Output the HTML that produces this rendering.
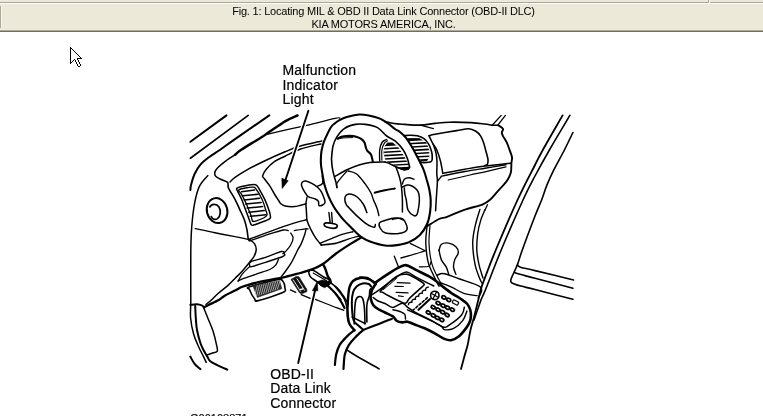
<!DOCTYPE html>
<html><head><meta charset="utf-8">
<style>
html,body{margin:0;padding:0;background:#fff;width:763px;height:416px;overflow:hidden;position:relative;font-family:"Liberation Sans",sans-serif;}
.hdr{position:absolute;left:0;top:0;width:763px;height:32px;background:#ece9d8;}
.l{position:absolute;left:0;width:763px;height:1px;}
.t1{position:absolute;filter:grayscale(1);left:0;width:763px;text-align:center;font-size:11px;line-height:13px;color:#000;white-space:nowrap;letter-spacing:-0.2px;}
.lab{position:absolute;filter:grayscale(1);-webkit-text-stroke:0.2px #000;font-size:14px;line-height:14.5px;color:#000;white-space:nowrap;}
svg{position:absolute;left:0;top:0;}
</style></head><body>
<div class="hdr">
  <div class="l" style="top:2px;background:#aca899"></div>
  <div class="l" style="top:3px;background:#fff"></div>
  <div style="position:absolute;left:708px;top:0;width:1px;height:3px;background:#aca899"></div>
  <div style="position:absolute;left:709px;top:0;width:1px;height:4px;background:#fff"></div>
  <div style="position:absolute;left:0;top:6px;width:1px;height:22px;background:#aca899"></div>
  <div style="position:absolute;left:1px;top:6px;width:1px;height:22px;background:#f5f3ea"></div>
  <div class="l" style="top:30px;background:#aca899"></div>
  <div class="l" style="top:31px;background:#716f64"></div>
  <div class="t1" style="top:4.7px;left:2px">Fig. 1: Locating MIL &amp; OBD II Data Link Connector (OBD-II DLC)</div>
  <div class="t1" style="top:17.7px;left:2px">KIA MOTORS AMERICA, INC.</div>
</div>
<div class="lab" style="left:282.5px;top:63.4px;letter-spacing:0.2px">Malfunction<br>Indicator<br>Light</div>
<div class="lab" style="left:270.3px;top:366.5px;letter-spacing:0.15px">OBD-II<br>Data Link<br>Connector</div>
<div class="lab" style="left:190px;top:411px;font-size:11px">G00108871</div>
<svg width="763" height="416" viewBox="0 0 763 416">
<g fill="none" stroke="#000" stroke-width="1.6" stroke-linecap="round" stroke-linejoin="round">
<path d="M384.9 146.4 L387.5 142.9 L392.7 142.9 L397.9 147.2 L404.0 156.8 L408.3 164.5 L409.1 168.9 L404.0 170.2 L397.9 168.0 L391.0 163.7 L385.8 160.2 L384.1 153.3Z" fill="#000" stroke="#000" stroke-width="0.8" stroke-linejoin="round"/>
<path d="M384.5 147.1L409.0 145.7" stroke="#fff" stroke-width="1.80" stroke-linecap="round" fill="none"/>
<path d="M384.5 150.5L409.0 149.1" stroke="#fff" stroke-width="1.80" stroke-linecap="round" fill="none"/>
<path d="M384.5 153.9L409.0 152.5" stroke="#fff" stroke-width="1.80" stroke-linecap="round" fill="none"/>
<path d="M384.5 157.3L409.0 155.9" stroke="#fff" stroke-width="1.80" stroke-linecap="round" fill="none"/>
<path d="M384.5 160.7L409.0 159.3" stroke="#fff" stroke-width="1.80" stroke-linecap="round" fill="none"/>
<path d="M384.5 164.1L409.0 162.7" stroke="#fff" stroke-width="1.80" stroke-linecap="round" fill="none"/>
<path d="M384.5 167.2L409.0 165.8" stroke="#fff" stroke-width="1.80" stroke-linecap="round" fill="none"/>
<path d="M408.0 138.6 L419.2 138.6 L426.0 142.4 L428.8 150.1 L428.8 157.8 L426.9 160.7 L421.0 161.0 L417.0 156.0 L413.0 149.0 L409.0 142.0Z" fill="#000" stroke="#000" stroke-width="0.8" stroke-linejoin="round"/>
<path d="M408.0 142.1L429.0 140.9" stroke="#fff" stroke-width="1.80" stroke-linecap="round" fill="none"/>
<path d="M408.0 145.5L429.0 144.3" stroke="#fff" stroke-width="1.80" stroke-linecap="round" fill="none"/>
<path d="M408.0 148.9L429.0 147.7" stroke="#fff" stroke-width="1.80" stroke-linecap="round" fill="none"/>
<path d="M408.0 152.3L429.0 151.1" stroke="#fff" stroke-width="1.80" stroke-linecap="round" fill="none"/>
<path d="M408.0 155.7L429.0 154.5" stroke="#fff" stroke-width="1.80" stroke-linecap="round" fill="none"/>
<path d="M408.0 159.0L429.0 157.8" stroke="#fff" stroke-width="1.80" stroke-linecap="round" fill="none"/>
<path d="M190.4 141.8L226.5 115.4" stroke-width="2.0"/>
<path d="M190.4 158.2L248.2 115.4" stroke-width="1.7"/>
<path d="M269.3 115.4C263.6 119.4 243.1 133.4 235.0 139.1C226.9 144.8 224.8 146.5 220.5 149.5C216.2 152.5 212.3 154.7 209.0 157.2C205.7 159.7 203.0 161.6 200.6 164.4C198.2 167.2 196.2 170.6 194.6 174.0C193.0 177.4 191.7 182.2 191.0 184.9C190.3 187.6 190.5 189.2 190.4 190.0" stroke-width="2.0"/>
<path d="M207.8 175.6C206.4 177.4 201.6 181.8 199.4 186.4C197.2 191.0 195.9 196.5 194.6 203.3C193.3 210.1 192.3 219.5 191.7 227.3C191.1 235.1 191.0 237.9 190.8 250.0C190.7 262.1 190.8 288.7 190.8 300.0C190.8 311.3 190.1 312.3 190.6 318.0C191.1 323.7 192.3 329.2 193.6 334.0C194.9 338.8 196.9 342.8 198.5 346.5C200.1 350.2 202.0 353.6 203.3 356.2C204.6 358.8 205.7 361.4 206.2 362.4" stroke-width="1.5"/>
<path d="M297.6 115.4C295.5 116.4 290.4 118.2 285.0 121.4C279.6 124.7 272.2 130.2 265.0 134.9C257.8 139.6 246.6 146.2 241.6 149.5C236.6 152.8 236.1 153.9 235.0 154.8" stroke-width="2.4"/>
<path d="M235.0 154.8C233.5 155.8 228.6 158.8 225.9 160.8C223.2 162.8 220.5 165.0 218.7 166.8C216.9 168.6 215.6 170.2 215.0 171.6C214.4 173.0 214.6 174.2 215.0 175.2C215.4 176.2 216.3 176.8 217.5 177.6C218.7 178.4 220.6 179.2 222.3 180.0C224.0 180.8 226.7 181.2 227.7 182.5C228.7 183.8 227.3 185.2 228.5 188.0C229.7 190.8 233.1 195.7 235.0 199.3C236.9 202.9 238.2 206.1 239.8 209.6C241.4 213.1 243.4 217.0 244.6 220.4C245.8 223.8 246.4 227.0 247.0 230.0C247.6 233.0 247.8 236.7 248.2 238.5C248.6 240.3 249.2 240.5 249.4 240.9" stroke-width="1.6"/>
<path d="M265.0 134.9C268.3 134.1 279.2 131.5 285.0 130.2C290.8 128.8 296.4 127.6 300.0 126.8C303.6 126.0 300.8 126.8 306.6 125.4C312.4 124.0 329.5 119.6 335.0 118.4C340.5 117.2 339.0 118.1 339.8 118.0" stroke-width="1.3"/>
<path d="M230.1 181.9C230.9 181.2 232.2 179.4 235.0 177.4C237.8 175.4 242.0 172.6 247.0 169.8C252.0 167.0 258.7 163.8 265.0 160.8C271.3 157.8 279.3 154.2 285.0 151.8C290.7 149.4 293.3 148.1 299.4 146.3C305.5 144.5 318.0 141.8 321.7 140.9" stroke-width="1.5"/>
<path d="M321.0 143.9C317.5 144.8 306.0 147.2 300.0 149.3C294.0 151.4 289.2 154.2 285.0 156.2C280.8 158.2 277.8 159.2 274.7 161.4C271.6 163.6 268.3 166.8 266.3 169.2C264.3 171.6 262.9 174.2 262.6 175.8C262.3 177.4 263.2 177.1 264.4 178.8C265.6 180.5 268.2 183.5 269.9 186.1C271.6 188.7 273.3 192.2 274.7 194.5C276.1 196.8 277.3 198.5 278.3 200.0C279.3 201.5 279.6 202.6 280.7 203.6C281.8 204.6 282.7 205.5 285.0 206.0C287.3 206.5 291.1 207.0 294.6 206.6C298.1 206.2 303.9 204.3 305.8 203.8" stroke-width="1.5"/>
<path d="M341.0 216.8C338.6 213.8 335.6 209.9 333.5 206.3C331.4 202.7 329.6 199.0 328.1 195.4C326.6 191.8 325.3 188.0 324.4 184.6C323.5 181.2 323.2 178.3 322.6 175.0C322.0 171.7 321.3 167.8 321.0 165.0C320.7 162.2 320.8 160.3 320.9 158.0C321.0 155.7 321.1 153.3 321.5 151.0C321.9 148.7 322.6 146.0 323.2 144.0C323.8 142.0 323.8 141.7 325.1 138.9C326.4 136.1 329.2 129.9 330.9 127.3C332.5 124.7 333.6 124.4 335.0 123.2C336.4 122.0 337.4 121.2 339.5 120.1C341.6 119.0 344.4 117.6 347.7 116.7C351.0 115.8 355.7 114.7 359.2 114.5C362.7 114.3 365.3 114.8 368.8 115.5C372.3 116.2 376.8 117.3 380.0 118.6C383.2 119.9 385.5 121.8 388.0 123.5C390.5 125.2 393.0 127.6 395.0 129.0C397.0 130.4 398.2 130.6 400.0 132.0C401.8 133.4 403.9 135.2 405.8 137.6C407.7 140.0 409.8 143.4 411.5 146.3C413.2 149.2 414.9 152.2 416.3 154.9C417.8 157.6 419.0 160.1 420.2 162.6C421.4 165.1 422.6 167.1 423.7 170.0C424.8 172.9 425.9 176.7 426.8 180.0C427.8 183.3 428.8 186.7 429.4 190.0C430.0 193.3 430.6 196.3 430.7 200.0C430.8 203.7 430.7 208.0 430.1 212.0C429.5 216.0 428.8 220.2 427.1 224.0C425.4 227.8 422.9 231.9 419.9 234.9C416.9 237.9 412.8 240.4 409.0 242.1C405.2 243.8 401.0 244.5 397.0 245.1C393.0 245.7 389.5 246.1 385.0 245.5C380.5 244.9 373.7 242.8 370.0 241.5C366.3 240.2 364.8 239.3 362.6 237.9C360.4 236.5 359.0 235.2 356.6 233.0C354.2 230.8 350.7 227.3 348.1 224.6C345.5 221.9 343.4 219.9 341.0 216.8Z" stroke-width="2.1"/>
<path d="M337.0 187.6C336.8 186.6 336.3 183.6 335.8 181.6C335.3 179.6 334.6 178.0 334.0 175.6C333.4 173.2 332.6 169.8 332.2 167.2C331.8 164.6 331.7 161.6 331.6 160.0C331.5 158.4 331.4 159.9 331.6 157.6C331.8 155.3 332.2 149.5 333.0 146.1C333.8 142.7 334.8 140.3 336.6 137.4C338.4 134.5 340.8 131.0 343.9 128.8C347.0 126.6 351.8 125.1 355.4 124.4C359.0 123.7 362.2 124.0 365.5 124.4C368.8 124.8 372.6 125.8 375.0 126.6C377.4 127.4 378.1 127.9 380.0 129.5C381.9 131.1 384.1 134.1 386.7 136.0C389.2 137.9 392.6 138.9 395.3 141.2C398.0 143.5 401.1 146.9 403.1 149.8C405.1 152.7 406.3 155.6 407.4 158.5C408.5 161.4 409.2 165.7 409.6 167.1" stroke-width="1.6"/>
<path d="M396.0 167.0C396.3 167.8 397.0 169.8 397.6 171.5C398.2 173.2 398.9 175.2 399.5 177.3C400.1 179.4 400.6 181.6 401.0 184.0C401.4 186.4 401.7 189.0 401.9 191.7C402.1 194.4 402.3 196.6 402.4 200.0C402.5 203.4 402.4 210.0 402.4 212.0" stroke-width="1.5"/>
<path d="M337.5 138.6C338.3 138.3 340.4 137.0 342.4 136.6C344.4 136.2 347.4 135.9 349.6 135.9C351.8 135.9 353.5 135.9 355.4 136.4C357.3 136.9 359.7 137.8 361.2 138.8C362.7 139.8 363.7 141.1 364.5 142.6C365.3 144.1 365.5 146.6 366.0 148.0C366.5 149.4 366.6 149.9 367.5 151.0C368.4 152.1 370.2 153.0 371.1 154.8C372.0 156.6 372.6 160.8 372.9 162.0" stroke-width="2.1"/>
<path d="M338.0 139.2C338.8 139.0 340.6 138.3 343.0 138.0C345.4 137.7 350.9 137.7 352.5 137.6" stroke-width="1.0"/>
<path d="M335.0 176.4C337.0 175.3 343.0 171.7 347.0 169.8C351.0 167.9 355.2 166.2 359.0 165.0C362.8 163.8 365.6 163.1 369.9 162.6C374.2 162.1 382.5 162.1 385.0 162.0" stroke-width="1.5"/>
<path d="M347.0 171.0C345.4 172.9 339.1 179.8 337.4 182.5C335.7 185.2 336.9 186.5 336.8 187.3" stroke-width="1.3"/>
<path d="M348.2 171.0C349.6 171.5 353.8 171.9 356.6 174.0C359.4 176.1 362.6 180.5 365.0 183.7C367.4 186.9 369.7 190.6 371.1 193.3C372.5 196.0 372.5 197.5 373.5 200.0C374.5 202.5 376.2 205.8 377.1 208.4C378.0 211.0 378.6 214.4 378.9 215.6" stroke-width="1.4"/>
<path d="M374.7 192.7C376.4 192.3 381.6 191.0 385.0 190.3C388.4 189.6 393.2 188.8 394.8 188.5" stroke-width="2.0"/>
<path d="M366.9 212.6C366.3 211.2 365.1 207.1 363.5 204.5C361.9 201.9 359.5 199.0 357.5 197.3C355.5 195.6 353.2 194.7 351.4 194.3C349.6 193.9 347.7 194.2 346.6 194.9C345.5 195.6 344.9 196.9 344.8 198.5C344.7 200.1 345.4 202.9 346.2 204.5C347.0 206.1 347.7 206.3 349.4 208.2C351.1 210.0 354.0 213.2 356.6 215.6C359.2 218.0 362.6 221.0 365.0 222.8C367.4 224.6 369.5 225.7 371.1 226.4C372.7 227.1 374.0 227.3 374.7 227.0C375.4 226.7 375.2 225.0 375.3 224.6" stroke-width="1.5"/>
<path d="M379.5 222.8C380.3 221.6 382.5 221.3 385.0 220.5C387.5 219.7 391.6 218.2 394.6 218.0C397.6 217.8 400.9 217.6 403.0 219.2C405.1 220.8 406.9 225.5 407.2 227.6C407.5 229.7 406.5 230.9 404.8 231.9C403.1 232.9 400.3 233.5 397.0 233.7C393.7 233.8 387.8 233.8 385.0 232.8C382.2 231.9 381.0 229.7 380.1 228.0C379.2 226.3 378.7 224.1 379.5 222.8Z" stroke-width="1.5"/>
<path d="M392.2 219.6C393.2 219.4 396.4 218.3 398.2 218.4C400.0 218.5 402.2 219.7 403.0 220.0" stroke-width="1.2"/>
<path d="M402.4 184.0C402.7 183.2 403.2 180.2 404.3 179.2C405.4 178.2 407.6 177.8 409.2 177.8C410.8 177.8 413.2 179.0 414.0 179.2" stroke-width="1.4"/>
<path d="M402.4 187.0C403.2 186.7 405.6 185.2 407.2 185.0C408.8 184.8 410.4 185.2 412.0 186.0C413.6 186.8 415.7 188.5 416.8 189.8C417.9 191.1 418.4 192.0 418.8 193.7C419.2 195.4 419.4 197.8 419.4 200.0C419.4 202.2 419.1 204.6 418.7 207.0C418.3 209.4 417.8 213.0 417.0 214.4C416.2 215.8 415.3 216.3 413.8 215.6C412.3 214.9 409.2 212.6 408.0 210.0C406.8 207.4 406.8 202.7 406.3 200.0C405.8 197.3 405.1 195.7 404.8 193.7C404.5 191.7 404.4 188.9 404.3 187.9" stroke-width="1.5"/>
<path d="M379.7 161.1C379.7 159.2 379.3 153.0 379.7 149.8C380.1 146.6 381.1 143.7 382.3 142.0C383.5 140.3 386.0 139.9 386.7 139.5" stroke-width="1.4"/>
<path d="M381.9 160.2C381.9 158.5 381.5 152.7 381.9 149.8C382.3 146.9 383.6 144.4 384.5 142.9C385.4 141.4 387.0 141.2 387.5 140.8" stroke-width="1.1"/>
<path d="M385.0 162.0C385.5 162.2 386.2 162.1 388.0 162.9C389.8 163.7 393.1 165.6 395.7 166.7C398.3 167.8 401.3 169.2 403.4 169.6C405.5 170.0 407.2 169.6 408.2 169.1C409.2 168.6 409.4 167.1 409.6 166.7" stroke-width="1.5"/>
<path d="M403.8 135.7C404.8 135.6 407.4 135.2 409.6 135.2C411.9 135.2 414.9 135.1 417.3 135.7C419.7 136.3 422.1 137.2 424.0 138.6C425.9 140.0 427.5 142.1 428.8 144.3C430.1 146.5 431.1 149.6 431.7 152.0C432.3 154.4 432.3 157.2 432.2 158.8C432.1 160.4 432.2 161.1 430.8 161.7C429.4 162.3 425.7 162.5 424.0 162.6C422.3 162.7 421.1 162.1 420.5 162.0" stroke-width="1.6"/>
<path d="M385.0 121.6C386.5 121.9 390.7 123.0 394.0 123.5C397.3 124.0 400.2 124.1 404.6 124.4C409.0 124.7 415.3 125.3 420.4 125.1C425.5 124.9 430.2 123.9 435.0 123.4C439.8 122.9 443.4 122.3 449.4 122.2C455.4 122.1 465.1 122.3 471.0 122.6C476.9 122.9 481.5 123.6 485.0 124.0C488.5 124.4 490.0 125.0 492.2 125.2C494.4 125.4 497.2 125.2 498.2 125.2" stroke-width="1.6"/>
<path d="M420.4 125.1L433.4 128.7" stroke-width="1.3"/>
<path d="M429.0 135.7C430.0 135.5 430.4 135.2 435.0 134.3C439.6 133.5 451.0 131.5 456.6 130.6C462.2 129.7 465.5 128.7 468.7 128.8C471.9 128.9 473.9 130.1 475.9 131.3C477.9 132.5 479.3 134.0 480.7 136.1C482.1 138.2 483.2 141.7 484.0 144.0C484.8 146.3 484.9 147.4 485.6 150.0C486.3 152.6 487.7 157.2 488.0 159.6C488.3 162.0 487.9 163.4 487.4 164.4C486.9 165.4 485.4 165.2 485.0 165.4" stroke-width="1.6"/>
<path d="M429.0 135.7C429.6 137.0 431.4 141.0 432.7 143.4C434.0 145.8 435.5 147.1 436.8 150.0C438.1 152.9 439.4 156.9 440.4 160.8C441.4 164.7 442.4 171.3 442.8 173.4" stroke-width="1.5"/>
<path d="M433.2 144.3C433.7 145.8 435.4 150.1 436.0 153.0C436.6 155.9 436.9 158.2 437.0 161.7C437.1 165.2 436.7 170.7 436.8 174.0C436.9 177.3 437.5 177.0 437.4 181.3C437.3 185.6 436.5 195.1 436.2 200.0C435.9 204.9 435.7 209.0 435.6 210.8" stroke-width="1.5"/>
<path d="M437.4 181.3C438.0 180.6 440.0 177.9 441.0 177.0C442.0 176.1 439.4 176.7 443.4 175.8C447.4 174.9 458.1 172.8 465.0 171.5C471.9 170.2 478.2 169.3 485.0 168.2C491.8 167.1 502.5 165.4 506.0 164.8" stroke-width="1.4"/>
<path d="M442.8 173.4C446.5 172.7 458.0 170.4 465.0 169.2C472.0 168.0 477.4 167.0 485.0 166.0C492.6 165.0 506.5 163.7 510.8 163.2" stroke-width="1.4"/>
<path d="M448.2 180.0C451.8 179.2 463.9 176.4 470.0 175.0C476.1 173.6 479.0 173.2 485.0 171.8C491.0 170.4 502.5 167.6 506.0 166.8" stroke-width="1.2"/>
<path d="M498.2 125.2C499.0 125.8 502.4 127.6 503.0 128.8C503.6 130.0 501.8 131.3 501.8 132.5C501.8 133.7 502.2 134.5 503.0 136.1C503.8 137.7 505.5 139.8 506.6 142.1C507.7 144.4 508.7 147.5 509.6 150.0C510.5 152.5 511.7 155.0 512.0 157.2C512.3 159.4 511.6 160.6 511.4 163.2C511.2 165.8 511.6 169.8 510.8 172.8C510.0 175.8 508.9 178.1 506.6 181.3C504.3 184.5 499.8 189.0 497.0 192.1C494.2 195.2 492.2 197.9 489.8 200.0C487.4 202.1 486.4 203.0 482.3 204.6C478.2 206.2 470.9 207.6 465.0 209.6C459.1 211.6 451.3 215.2 447.0 216.8C442.7 218.4 442.3 217.4 439.0 219.0C435.7 220.6 429.0 225.1 427.0 226.3" stroke-width="1.9"/>
<path d="M485.0 210.2L487.4 204.8" stroke-width="1.3"/>
<path d="M492.2 125.2L501.2 115.4" stroke-width="1.3"/>
<path d="M498.2 124.6L505.4 115.4" stroke-width="1.3"/>
<path d="M562.6 115.4C559.3 121.2 547.4 141.7 542.8 150.0C538.2 158.3 539.2 156.7 535.0 165.0C530.8 173.3 524.0 185.8 517.5 200.0C511.0 214.2 501.2 237.1 495.8 250.0C490.4 262.9 487.5 271.0 485.0 277.6C482.5 284.2 481.8 286.0 480.7 289.7C479.6 293.4 479.4 295.5 478.3 300.0C477.2 304.5 475.5 311.6 474.2 316.6C472.9 321.6 471.6 325.3 470.5 330.0C469.4 334.7 468.7 340.4 467.7 344.7C466.7 349.0 465.6 351.9 464.5 356.0C463.4 360.1 461.6 366.8 461.0 369.0" stroke-width="1.8"/>
<path d="M569.9 115.4C566.5 121.2 555.2 139.9 549.4 150.0C543.6 160.1 539.4 167.7 535.0 176.0C530.6 184.3 528.6 187.7 523.0 200.0C517.4 212.3 507.5 234.8 501.2 250.0C494.9 265.1 488.4 282.6 485.0 290.9C481.6 299.2 482.8 295.1 481.0 300.0C479.2 304.9 475.2 316.7 474.0 320.0" stroke-width="1.6"/>
<path d="M572.9 132.5C571.5 135.4 567.5 143.9 564.4 150.0C561.3 156.1 557.1 163.4 554.2 169.2C551.3 175.0 549.1 179.8 547.0 184.9C544.9 190.0 543.6 194.8 541.6 200.0C539.6 205.2 538.2 207.7 535.0 216.0C531.8 224.3 525.2 241.9 522.3 250.0C519.4 258.1 518.9 260.6 517.5 264.4C516.1 268.2 514.9 270.2 513.8 272.8C512.7 275.4 511.1 278.3 510.8 280.0C510.5 281.7 510.3 282.0 512.0 283.0C513.7 284.0 517.2 285.0 521.0 286.1C524.8 287.2 526.4 287.3 535.0 289.5C543.6 291.7 566.6 297.7 572.9 299.3" stroke-width="1.6"/>
<path d="M517.5 265.0C518.1 265.4 518.1 266.5 521.0 267.4C523.9 268.3 526.2 268.5 535.0 270.6C543.8 272.7 567.1 278.4 573.5 280.0" stroke-width="1.6"/>
<path d="M514.5 272.5C515.6 272.9 517.6 273.7 521.0 274.6C524.4 275.6 526.4 275.9 535.0 278.2C543.6 280.5 566.6 286.5 572.9 288.2" stroke-width="1.6"/>
<path d="M427.0 226.3C426.8 229.1 425.6 237.0 425.8 243.0C426.0 249.0 426.8 256.7 428.2 262.3C429.6 267.9 432.4 272.7 434.2 276.7C436.0 280.7 438.2 284.7 439.0 286.3" stroke-width="1.4"/>
<path d="M410.2 243.3L424.7 250.5" stroke-width="1.3"/>
<path d="M430.0 226.0C429.8 228.8 428.8 236.9 429.0 243.0C429.2 249.1 430.2 256.8 431.5 262.3C432.8 267.8 435.2 272.2 437.0 276.0C438.8 279.8 441.2 283.5 442.0 285.0" stroke-width="1.2"/>
<path d="M479.9 209.4C479.1 212.2 476.3 220.7 475.1 226.3C473.9 231.9 472.7 236.7 472.7 243.1C472.7 249.5 473.9 258.7 475.1 264.7C476.3 270.7 478.8 276.1 479.9 279.1C481.0 282.2 481.6 282.4 482.0 283.0" stroke-width="1.4"/>
<path d="M485.0 209.6C484.3 211.4 481.9 216.4 480.7 220.4C479.5 224.4 478.3 228.8 477.7 233.7C477.1 238.6 476.6 244.8 476.8 250.0C477.0 255.2 478.0 260.0 479.0 264.7C480.0 269.4 482.3 275.8 483.0 278.0" stroke-width="1.4"/>
<path d="M439.0 250.3C439.4 249.3 439.8 245.5 441.4 244.3C443.0 243.1 446.3 242.7 448.7 243.1C451.1 243.5 454.3 245.1 455.9 246.7C457.5 248.3 458.5 250.5 458.3 252.7C458.1 254.9 455.5 257.5 454.7 259.9C453.9 262.3 453.3 264.7 453.5 267.1C453.7 269.5 455.5 273.1 455.9 274.3" stroke-width="1.4"/>
<path d="M439.0 250.3C439.4 251.9 440.2 257.1 441.4 259.9C442.6 262.7 445.1 264.7 446.3 267.1C447.5 269.5 448.3 273.1 448.7 274.3" stroke-width="1.4"/>
<path d="M236.8 188.4C237.5 187.7 238.8 187.2 241.6 186.6C244.4 186.0 251.0 184.7 253.6 184.6C256.2 184.5 256.0 184.8 257.2 186.0C258.4 187.2 259.4 189.4 260.8 192.0C262.2 194.6 264.3 198.4 265.7 201.6C267.1 204.8 268.5 208.7 269.3 211.3C270.1 213.9 270.7 215.9 270.5 217.3C270.3 218.7 269.3 219.0 268.1 219.7C266.9 220.4 265.7 220.6 263.3 221.5C260.9 222.4 255.6 224.6 253.6 225.1C251.6 225.6 252.0 225.6 251.2 224.5C250.4 223.4 249.8 221.1 248.8 218.5C247.8 215.9 246.4 212.0 245.2 208.8C244.0 205.6 242.9 202.2 241.6 199.2C240.3 196.2 238.2 192.6 237.4 190.8C236.6 189.0 236.1 189.1 236.8 188.4Z" stroke-width="1.5"/>
<path d="M239.2 189.6C241.0 188.4 249.6 187.3 252.4 187.2C255.2 187.1 254.4 187.0 256.0 189.0C257.6 191.0 260.4 195.7 262.0 199.2C263.6 202.7 265.0 207.2 265.7 210.0C266.4 212.8 268.3 214.2 266.3 216.1C264.3 218.0 256.1 221.5 253.6 221.5C251.1 221.5 252.4 219.0 251.2 216.1C250.0 213.2 248.0 207.6 246.4 204.0C244.8 200.4 242.8 196.8 241.6 194.4C240.4 192.0 237.4 190.8 239.2 189.6Z" stroke-width="1.3"/>
<path d="M195.2 228.6C198.5 229.3 208.4 231.5 215.0 232.8C221.6 234.1 229.7 235.6 235.0 236.6C240.3 237.6 244.5 238.6 247.0 239.1C249.5 239.6 249.3 239.4 249.8 239.5" stroke-width="1.4"/>
<path d="M249.8 239.0C253.0 237.8 261.8 234.4 269.0 231.8C276.2 229.2 286.9 225.4 293.1 223.4C299.3 221.4 304.1 220.4 306.3 219.8" stroke-width="1.4"/>
<path d="M250.4 240.8C253.5 239.7 263.5 236.0 269.0 234.2C274.5 232.4 280.3 230.6 283.5 230.0C286.7 229.4 287.5 230.5 288.3 230.6" stroke-width="1.3"/>
<path d="M294.3 230.6C296.1 230.3 302.8 229.1 305.1 228.8C307.4 228.5 307.5 229.0 308.0 229.0" stroke-width="1.3"/>
<path d="M305.8 203.8C305.9 205.0 306.3 209.2 306.4 211.1C306.5 213.0 306.5 213.3 306.6 215.0C306.7 216.7 306.5 218.6 307.2 221.0C307.9 223.4 309.4 226.6 310.8 229.4C312.2 232.2 314.1 235.6 315.6 237.9C317.1 240.2 318.9 242.1 319.9 243.3C320.9 244.5 321.4 244.8 321.7 245.1" stroke-width="1.5"/>
<path d="M319.9 243.3C321.6 242.6 326.4 240.6 330.1 239.1C333.8 237.6 338.3 235.5 342.1 234.3C345.9 233.1 351.1 232.2 352.9 231.8" stroke-width="1.4"/>
<path d="M321.0 245.1C323.5 244.8 331.6 244.3 336.1 243.3C340.6 242.3 344.3 240.3 348.1 239.1C351.9 237.9 357.2 236.6 359.0 236.1" stroke-width="1.4"/>
<path d="M306.0 229.4C305.8 230.2 305.6 231.9 304.8 234.3C304.0 236.7 302.3 241.4 301.2 243.9C300.1 246.4 299.6 246.3 298.0 249.4C296.4 252.5 293.6 258.8 291.5 262.4C289.4 266.0 287.4 268.6 285.7 271.0C284.0 273.4 282.1 275.6 281.4 276.5" stroke-width="1.4"/>
<path d="M290.7 233.0C291.1 233.8 293.1 235.8 293.1 237.8C293.1 239.8 291.9 242.8 290.7 245.0C289.5 247.2 287.2 249.7 285.9 251.1C284.6 252.5 283.3 253.3 282.8 253.7" stroke-width="1.3"/>
<path d="M302.2 182.2C302.9 181.4 304.2 180.8 305.8 181.0C307.4 181.2 309.9 182.4 311.8 183.4C313.7 184.4 315.6 185.6 317.2 187.0C318.8 188.4 320.2 189.8 321.4 191.8C322.6 193.8 323.8 197.2 324.4 199.0C325.0 200.8 325.3 201.6 325.0 202.6C324.7 203.6 323.6 204.5 322.6 205.0C321.6 205.5 319.7 206.2 319.0 205.6C318.3 205.0 319.0 202.5 318.4 201.4C317.8 200.3 317.1 199.8 315.4 199.0C313.7 198.2 310.0 197.8 308.2 196.6C306.4 195.4 305.7 193.6 304.6 191.8C303.5 190.0 302.0 187.4 301.6 185.8C301.2 184.2 301.5 183.0 302.2 182.2Z" stroke-width="1.5"/>
<path d="M317.2 186.4C318.1 185.9 321.8 185.1 322.6 183.4C323.4 181.7 322.3 177.2 322.2 176.0" stroke-width="1.4"/>
<path d="M307.0 197.2L305.8 203.8" stroke-width="1.4"/>
<path d="M328.9 212.5L330.1 222.2" stroke-width="1.4"/>
<path d="M331.6 212.5L332.3 222.2" stroke-width="1.4"/>
<path d="M324.1 224.6C324.1 223.9 324.7 222.9 326.5 222.8C328.3 222.7 333.1 223.5 334.9 224.0C336.7 224.5 337.3 225.1 337.3 225.8C337.3 226.5 336.7 228.0 334.9 228.2C333.1 228.4 328.3 227.6 326.5 227.0C324.7 226.4 324.1 225.3 324.1 224.6Z" stroke-width="1.7"/>
<path d="M249.8 239.5C250.6 240.2 253.5 242.1 254.6 243.8C255.7 245.5 256.3 247.8 256.2 249.9C256.1 252.0 255.1 254.4 254.0 256.5C252.9 258.6 251.5 259.9 249.6 262.3C247.7 264.7 244.8 268.4 242.4 271.0C240.0 273.6 237.6 275.8 235.2 278.2C232.8 280.6 230.9 282.8 228.0 285.4C225.1 287.9 220.8 291.1 218.0 293.5C215.2 295.9 213.4 298.2 211.4 300.0C209.4 301.8 206.9 303.8 206.0 304.5" stroke-width="1.5"/>
<path d="M251.1 261.6C253.8 260.3 260.4 259.0 265.5 257.3C270.6 255.6 278.3 252.1 281.4 251.5C284.5 250.9 284.1 252.9 284.3 253.7C284.5 254.5 285.9 255.1 282.8 256.5C279.7 257.9 270.7 260.6 265.5 262.3C260.3 264.0 254.5 266.1 251.8 266.6C249.2 267.1 249.7 266.0 249.6 265.2C249.5 264.4 248.4 262.9 251.1 261.6Z" stroke-width="1.4"/>
<path d="M249.6 266.6C248.4 267.8 244.3 271.5 242.4 273.9C240.5 276.3 238.8 279.9 238.1 281.1" stroke-width="1.3"/>
<path d="M278.5 259.4C278.0 260.4 277.1 263.5 275.6 265.2C274.2 266.9 272.9 268.1 269.8 269.5C266.7 270.9 261.5 272.3 256.9 273.9C252.3 275.5 245.5 277.7 242.4 278.9C239.3 280.1 238.8 280.7 238.1 281.1" stroke-width="1.3"/>
<path d="M204.2 307.2C205.0 306.8 206.6 306.0 209.0 304.8C211.4 303.6 216.1 301.5 218.7 300.0C221.3 298.5 222.0 297.3 224.7 295.7C227.4 294.1 232.1 292.1 235.0 290.6C237.9 289.1 238.8 288.2 242.4 286.8C246.1 285.4 252.1 283.7 256.9 282.5C261.7 281.3 266.5 280.6 271.3 279.6C276.1 278.7 280.9 277.9 285.7 276.8C290.5 275.7 295.6 274.2 300.0 273.0C304.4 271.8 308.2 270.9 312.0 269.4C315.8 267.9 318.9 266.6 322.9 264.0C326.9 261.4 331.5 256.9 336.1 253.5C340.7 250.2 346.3 246.6 350.5 243.9C354.7 241.2 359.6 238.4 361.4 237.3" stroke-width="2.3"/>
<path d="M190.4 304.8C191.5 304.7 195.1 304.1 197.0 304.2C198.9 304.3 200.6 304.9 201.8 305.4C203.0 305.9 203.8 306.9 204.2 307.2" stroke-width="2.0"/>
<path d="M195.2 306.0C195.3 308.0 195.5 314.0 195.8 318.0C196.1 322.0 196.2 325.8 197.0 330.0C197.8 334.2 199.2 339.4 200.4 343.0C201.6 346.6 203.0 348.9 204.2 351.3C205.4 353.7 206.6 355.5 207.6 357.1C208.6 358.7 208.5 359.7 210.0 361.0C211.5 362.3 213.8 363.4 216.7 364.8C219.6 366.2 225.5 368.8 227.3 369.6" stroke-width="2.0"/>
<path d="M203.3 307.0C204.1 308.8 206.2 314.0 207.8 318.0C209.4 322.0 211.5 326.4 213.0 331.0C214.5 335.6 216.0 342.2 216.7 345.6C217.4 349.0 218.0 350.0 217.2 351.3C216.4 352.6 213.7 352.7 211.9 353.3C210.1 353.9 207.5 354.9 206.6 355.2" stroke-width="1.5"/>
<path d="M190.3 356.6C191.0 357.8 192.9 361.7 194.6 363.8C196.3 365.9 199.4 368.2 200.4 369.1" stroke-width="2.0"/>
<path d="M249.6 286.8C254.2 285.1 271.6 280.6 277.1 279.6C282.6 278.7 281.5 279.7 282.8 281.1C284.1 282.6 285.0 286.4 285.0 288.3C285.0 290.2 287.2 290.6 282.8 292.6C278.4 294.7 263.0 299.5 258.3 300.6C253.6 301.7 256.1 300.9 254.7 299.1C253.2 297.3 250.4 291.8 249.6 289.7C248.8 287.6 245.0 288.5 249.6 286.8Z" stroke-width="1.6"/>
<path d="M309.0 271.2C309.5 270.6 310.7 269.8 312.0 270.0C313.3 270.2 314.8 271.2 316.8 272.4C318.8 273.6 322.1 276.0 324.1 277.2C326.1 278.4 327.8 278.8 328.9 279.6C330.0 280.4 330.9 281.1 330.7 282.0C330.5 282.9 329.0 284.3 327.7 285.0C326.4 285.7 324.6 286.7 322.9 286.2C321.2 285.7 319.4 283.5 317.4 282.0C315.4 280.5 312.2 278.6 310.8 277.2C309.4 275.8 309.3 274.6 309.0 273.6C308.7 272.6 308.5 271.8 309.0 271.2Z" stroke-width="1.6"/>
<path d="M313.2 273.0L326.5 280.8" stroke-width="1.1"/>
<path d="M322.9 264.0C323.3 264.8 324.5 266.8 325.3 268.8C326.1 270.8 326.9 274.2 327.7 276.0C328.5 277.8 329.7 279.0 330.1 279.6" stroke-width="2.4"/>
<path d="M327.7 285.6C328.9 286.8 332.7 290.3 334.9 292.9C337.1 295.5 339.3 298.8 340.9 301.3C342.5 303.8 343.9 306.9 344.5 308.0" stroke-width="2.2"/>
<path d="M331.3 283.2C332.5 284.2 336.3 286.8 338.5 289.2C340.7 291.6 342.9 295.3 344.5 297.7C346.1 300.1 347.4 302.7 348.0 303.7" stroke-width="1.6"/>
<path d="M290.4 289.9L295.8 292.3" stroke-width="1.3"/>
<path d="M301.2 294.7L310.2 298.3" stroke-width="1.3"/>
<path d="M315.4 299.3C317.1 300.0 322.2 302.1 325.7 303.5C329.2 304.9 333.5 306.6 336.5 307.7C339.5 308.8 342.5 309.9 343.7 310.3" stroke-width="1.3"/>
<path d="M354.2 324.0C354.3 321.3 354.5 312.1 354.8 308.0C355.1 303.9 355.3 301.5 356.0 299.6C356.7 297.7 357.9 296.8 359.0 296.6C360.1 296.4 361.7 296.5 362.6 298.4C363.5 300.3 364.0 303.7 364.4 308.0C364.8 312.3 364.9 321.3 365.0 324.0" stroke-width="1.6"/>
<path d="M366.9 322.0C366.9 319.1 366.5 308.8 366.9 304.5C367.3 300.2 368.8 298.4 369.3 296.0C369.8 293.6 369.4 291.4 369.9 290.0C370.4 288.6 371.9 288.0 372.3 287.6" stroke-width="1.6"/>
<path d="M335.0 286.4C335.8 287.4 338.2 290.2 339.8 292.4C341.4 294.6 343.4 297.0 344.6 299.6C345.8 302.2 346.4 305.4 347.0 308.0C347.6 310.6 347.9 313.0 348.2 315.3C348.5 317.6 348.7 320.9 348.8 322.0" stroke-width="1.5"/>
<path d="M335.0 292.4L341.0 299.6" stroke-width="1.3"/>
<path d="M360.0 277.2C361.2 277.3 365.0 277.1 367.2 277.8C369.4 278.5 371.8 280.4 373.2 281.4C374.6 282.4 375.2 283.4 375.6 283.8" stroke-width="2.0"/>
<path d="M375.6 282.6C377.0 281.4 381.4 278.4 384.0 276.6C386.6 274.8 388.9 273.3 391.3 271.8C393.7 270.3 396.3 268.7 398.5 267.6C400.7 266.5 402.9 265.5 404.5 265.2C406.1 264.9 406.0 264.9 408.1 265.8C410.2 266.7 413.5 268.6 417.0 270.4C420.5 272.2 425.8 274.6 429.0 276.4C432.2 278.2 434.1 279.6 436.3 281.2C438.5 282.8 439.4 284.0 442.0 286.0C444.6 288.0 448.4 291.0 451.6 293.2C454.8 295.4 458.7 297.4 461.3 299.2C463.9 301.0 465.8 302.2 467.3 304.0C468.8 305.8 469.7 308.0 470.3 310.0C470.9 312.0 471.0 314.1 470.9 316.1C470.8 318.1 470.5 320.1 469.7 322.1C468.9 324.1 467.9 325.8 466.1 328.1C464.3 330.5 461.5 334.2 459.0 336.2C456.5 338.2 453.4 339.8 451.0 340.2C448.6 340.6 447.0 340.0 444.4 338.9C441.8 337.8 438.5 335.4 435.2 333.6C431.9 331.8 428.1 329.9 424.6 328.3C421.1 326.8 417.0 325.4 414.1 324.3C411.2 323.2 409.5 322.0 407.5 321.7C405.5 321.4 404.0 322.5 402.2 322.4C400.4 322.3 398.4 322.0 396.9 321.0C395.3 320.0 394.9 317.8 392.9 316.4C390.9 315.0 387.5 313.7 385.0 312.5C382.5 311.3 380.0 310.2 378.0 309.0C376.0 307.8 374.4 306.7 373.2 305.0C372.0 303.3 371.2 300.7 370.8 299.0C370.4 297.3 370.6 296.2 370.8 294.7C371.0 293.2 371.2 291.7 372.0 289.9C372.8 288.1 375.0 285.0 375.6 283.8C376.2 282.6 374.2 283.8 375.6 282.6Z" stroke-width="2.6"/>
<path d="M372.0 294.7C373.2 293.9 376.4 291.9 379.2 289.9C382.0 287.9 385.8 284.8 388.8 282.6C391.8 280.4 394.9 278.2 397.3 276.6C399.7 275.0 401.5 273.7 403.3 273.0C405.1 272.3 405.8 271.6 408.1 272.4C410.4 273.2 413.5 275.7 417.0 277.6C420.5 279.5 426.2 282.2 429.0 283.6C431.8 285.0 433.0 285.6 433.8 286.0" stroke-width="1.5"/>
<path d="M373.2 297.5C374.0 298.1 376.0 300.0 378.0 301.0C380.0 302.0 382.5 302.4 385.0 303.5C387.5 304.6 390.0 307.6 392.9 307.5C395.8 307.4 399.8 303.2 402.2 303.2C404.6 303.1 405.3 305.6 407.5 307.2C409.7 308.8 411.4 310.3 415.4 312.5C419.3 314.7 426.6 318.0 431.2 320.4C435.8 322.8 440.2 326.1 443.1 327.0C446.0 327.9 445.3 327.7 448.4 325.7C451.5 323.7 459.0 318.2 461.6 315.1C464.2 312.0 463.9 308.5 464.3 307.2" stroke-width="1.5"/>
<path d="M392.9 309.8C394.2 310.1 398.9 311.0 400.9 311.8C402.9 312.6 404.0 313.2 404.8 314.4C405.6 315.6 405.4 318.3 405.5 319.1" stroke-width="1.4"/>
<path d="M407.5 309.8C410.4 311.1 419.1 315.1 424.6 317.7C430.1 320.3 437.2 323.7 440.5 325.7C443.8 327.7 442.2 329.2 444.4 329.6C446.6 330.0 450.6 329.8 453.7 328.3C456.8 326.8 460.7 323.3 462.9 320.4C465.1 317.5 466.2 312.7 466.9 311.1" stroke-width="1.4"/>
<path d="M381.0 290.5C383.2 287.9 392.0 279.3 396.1 276.6C400.2 273.9 403.4 274.4 405.7 274.2C408.0 274.0 407.5 274.0 410.0 275.2C412.5 276.4 418.2 279.7 420.6 281.2C423.0 282.7 424.0 283.2 424.2 284.2C424.4 285.2 424.2 284.9 421.8 287.2C419.4 289.5 412.5 295.4 409.8 298.0C407.1 300.6 407.4 302.6 405.7 303.1C404.0 303.7 402.3 302.4 399.7 301.3C397.1 300.2 392.8 298.0 390.0 296.5C387.2 295.0 384.3 293.3 382.8 292.3C381.3 291.3 378.8 293.1 381.0 290.5Z" stroke-width="1.6"/>
<path d="M383.5 289.5L396.5 278.5" stroke-width="1.0"/>
<path d="M397.3 282.6L410.0 283.2" stroke-width="1.2"/>
<path d="M394.9 286.3L403.3 286.5" stroke-width="1.2"/>
<path d="M396.1 292.3L408.1 292.9" stroke-width="1.2"/>
<path d="M398.5 295.9L403.3 296.5" stroke-width="1.2"/>
<path d="M394.3 256.2L398.5 267.0" stroke-width="1.3"/>
<path d="M400.9 258.0C404.1 257.1 415.8 253.8 420.0 252.5C424.2 251.2 425.0 250.8 426.0 250.5" stroke-width="1.3"/>
<path d="M419.4 266.8C421.0 266.7 427.1 267.0 429.0 266.2C430.9 265.4 430.5 262.7 430.8 262.0" stroke-width="1.2"/>
<path d="M437.4 275.2C438.2 274.9 440.2 273.4 442.2 273.4C444.2 273.4 446.6 274.3 449.4 275.2C452.2 276.1 453.8 276.8 459.0 278.8C464.2 280.8 477.5 284.0 480.7 287.2C483.9 290.4 478.7 296.2 478.3 298.0" stroke-width="1.5"/>
<path d="M439.8 282.4C441.8 283.2 447.6 285.4 451.6 287.2C455.6 289.0 459.6 291.9 463.8 293.3C468.1 294.7 474.9 295.3 477.1 295.7" stroke-width="1.3"/>
<path d="M334.9 365.0C335.1 363.2 335.4 357.7 336.2 354.4C337.0 351.1 337.7 348.2 339.6 345.1C341.5 342.0 345.0 338.4 347.5 335.9C350.0 333.4 353.3 331.1 354.5 330.2" stroke-width="2.2"/>
<path d="M354.5 330.2C353.7 329.2 350.6 326.4 349.5 324.0C348.4 321.6 347.9 319.7 347.6 316.0C347.3 312.3 347.5 306.7 347.8 302.0C348.1 297.3 348.5 291.1 349.4 287.6C350.3 284.1 351.2 282.6 353.0 281.0C354.8 279.4 357.6 278.3 360.2 278.0C362.8 277.7 366.5 278.5 368.7 279.2C370.9 279.9 372.4 281.4 373.5 282.2C374.6 283.0 375.2 283.7 375.6 284.0" stroke-width="2.4"/>
<path d="M343.5 369.0C343.7 366.6 343.9 358.4 344.8 354.4C345.7 350.4 347.0 348.0 348.8 345.1C350.6 342.2 353.0 339.7 355.4 337.2C357.8 334.7 362.1 331.1 363.4 329.9" stroke-width="2.2"/>
<path d="M363.4 329.9C362.5 329.1 359.8 326.9 358.1 325.3C356.5 323.7 354.6 323.7 353.5 320.0C352.4 316.3 351.9 307.8 351.8 303.2C351.7 298.6 352.2 295.2 353.0 292.4C353.8 289.6 355.0 287.9 356.6 286.4C358.2 284.9 360.6 283.8 362.6 283.4C364.6 283.0 367.3 283.5 368.7 284.0C370.1 284.5 370.7 286.0 371.1 286.4" stroke-width="2.0"/>
<path d="M363.4 329.9C365.4 329.1 371.1 326.9 375.3 325.3C379.5 323.7 385.7 321.1 388.5 320.0C391.3 318.9 391.4 319.0 392.0 318.8" stroke-width="2.0"/>
<path d="M347.5 350.4C349.3 351.5 352.8 353.9 358.1 357.0C363.4 360.1 375.7 366.9 379.2 368.9" stroke-width="1.5"/>
<path d="M352.0 317.0C353.0 317.5 355.8 318.9 358.0 320.0C360.2 321.1 363.8 322.9 365.0 323.5" stroke-width="1.5"/>
</g>
<path d="M308.4 110.8 L285.3 180.5" stroke="#fff" stroke-width="4.50" fill="none" stroke-linecap="round" stroke-linejoin="round"/>
<path d="M308.4 110.8 L285.3 180.5" stroke="#000" stroke-width="1.90" fill="none" stroke-linecap="round" stroke-linejoin="round"/>
<path d="M281.8 178.3 L288.2 180.7 L282.2 188.5Z" fill="#000" stroke="#000" stroke-width="0.6" stroke-linejoin="round"/>
<path d="M298.2 363.0 L315.4 289.0" stroke="#fff" stroke-width="4.00" fill="none" stroke-linecap="round" stroke-linejoin="round"/>
<path d="M298.2 363.0 L315.4 289.0" stroke="#000" stroke-width="1.90" fill="none" stroke-linecap="round" stroke-linejoin="round"/>
<path d="M312.4 290.8 L317.3 281.4 L317.8 290.8Z" fill="#000" stroke="#000" stroke-width="0.6" stroke-linejoin="round"/>
<ellipse cx="217.1" cy="210.6" rx="10.2" ry="12.6" transform="rotate(-14 217.1 210.6)" fill="none" stroke="#000" stroke-width="2"/>
<path d="M209.9 206.9 C211.5 203.6 216.5 203.3 219 207 C221 210.5 220.8 216 217.5 218.6 C215 220.3 212.5 219.2 211.3 216.6" fill="none" stroke="#000" stroke-width="1.7" stroke-linecap="round"/>
<path d="M241.5 191.7 L254.5 190.1" stroke="#000" stroke-width="1.50" fill="none" stroke-linecap="round" stroke-linejoin="round"/>
<path d="M242.6 195.8 L258.1 194.2" stroke="#000" stroke-width="1.50" fill="none" stroke-linecap="round" stroke-linejoin="round"/>
<path d="M244.1 199.9 L259.6 198.3" stroke="#000" stroke-width="1.50" fill="none" stroke-linecap="round" stroke-linejoin="round"/>
<path d="M245.7 204.0 L261.1 202.4" stroke="#000" stroke-width="1.50" fill="none" stroke-linecap="round" stroke-linejoin="round"/>
<path d="M247.2 208.1 L262.7 206.5" stroke="#000" stroke-width="1.50" fill="none" stroke-linecap="round" stroke-linejoin="round"/>
<path d="M248.8 212.2 L264.2 210.6" stroke="#000" stroke-width="1.50" fill="none" stroke-linecap="round" stroke-linejoin="round"/>
<path d="M250.3 216.3 L265.8 214.7" stroke="#000" stroke-width="1.50" fill="none" stroke-linecap="round" stroke-linejoin="round"/>
<ellipse cx="443.8" cy="297.4" rx="2.1" ry="1.5" transform="rotate(28 443.8 297.4)" fill="none" stroke="#000" stroke-width="1.7"/>
<ellipse cx="448.7" cy="299.9" rx="2.1" ry="1.5" transform="rotate(28 448.7 299.9)" fill="none" stroke="#000" stroke-width="1.7"/>
<ellipse cx="438.1" cy="303.1" rx="2.1" ry="1.5" transform="rotate(28 438.1 303.1)" fill="none" stroke="#000" stroke-width="1.7"/>
<ellipse cx="443.0" cy="305.6" rx="2.1" ry="1.5" transform="rotate(28 443.0 305.6)" fill="none" stroke="#000" stroke-width="1.7"/>
<ellipse cx="447.5" cy="307.6" rx="2.1" ry="1.5" transform="rotate(28 447.5 307.6)" fill="none" stroke="#000" stroke-width="1.7"/>
<ellipse cx="452.4" cy="309.7" rx="2.1" ry="1.5" transform="rotate(28 452.4 309.7)" fill="none" stroke="#000" stroke-width="1.7"/>
<ellipse cx="433.2" cy="307.2" rx="2.1" ry="1.5" transform="rotate(28 433.2 307.2)" fill="none" stroke="#000" stroke-width="1.7"/>
<ellipse cx="438.1" cy="309.7" rx="2.1" ry="1.5" transform="rotate(28 438.1 309.7)" fill="none" stroke="#000" stroke-width="1.7"/>
<ellipse cx="442.6" cy="312.1" rx="2.1" ry="1.5" transform="rotate(28 442.6 312.1)" fill="none" stroke="#000" stroke-width="1.7"/>
<ellipse cx="447.1" cy="315.0" rx="2.1" ry="1.5" transform="rotate(28 447.1 315.0)" fill="none" stroke="#000" stroke-width="1.7"/>
<ellipse cx="428.3" cy="312.5" rx="2.1" ry="1.5" transform="rotate(28 428.3 312.5)" fill="none" stroke="#000" stroke-width="1.7"/>
<ellipse cx="433.2" cy="315.4" rx="2.1" ry="1.5" transform="rotate(28 433.2 315.4)" fill="none" stroke="#000" stroke-width="1.7"/>
<ellipse cx="437.3" cy="317.8" rx="2.1" ry="1.5" transform="rotate(28 437.3 317.8)" fill="none" stroke="#000" stroke-width="1.7"/>
<ellipse cx="441.8" cy="319.9" rx="2.1" ry="1.5" transform="rotate(28 441.8 319.9)" fill="none" stroke="#000" stroke-width="1.7"/>
<rect x="452.5" y="300.8" width="6" height="3.4" rx="0.8" transform="rotate(28 455.5 302.5)" fill="none" stroke="#000" stroke-width="1.2"/>
<circle cx="434.8" cy="295.4" r="4.2" fill="none" stroke="#000" stroke-width="1.6"/>
<path d="M431.5 293.5 L438.0 297.3" stroke="#000" stroke-width="1.30" fill="none" stroke-linecap="round" stroke-linejoin="round"/>
<path d="M436.5 292.0 L433.0 298.8" stroke="#000" stroke-width="1.30" fill="none" stroke-linecap="round" stroke-linejoin="round"/>
<path d="M408.4 305.3 Q408.4 301.8 411.8 302.3 Q411.8 298.8 415.2 299.3 Q415.2 295.8 418.6 296.2 Q418.6 292.8 422.1 293.2 Q422.1 289.8 425.5 290.2 Q425.5 286.8 428.9 287.2" fill="none" stroke="#000" stroke-width="1.4"/>
<path d="M412.6 310.6 L414.4 309.0" stroke="#000" stroke-width="1.60" fill="none" stroke-linecap="round" stroke-linejoin="round"/>
<path d="M415.9 307.8 L417.6 306.2" stroke="#000" stroke-width="1.60" fill="none" stroke-linecap="round" stroke-linejoin="round"/>
<path d="M419.1 304.9 L420.9 303.3" stroke="#000" stroke-width="1.60" fill="none" stroke-linecap="round" stroke-linejoin="round"/>
<path d="M422.4 302.1 L424.1 300.5" stroke="#000" stroke-width="1.60" fill="none" stroke-linecap="round" stroke-linejoin="round"/>
<path d="M425.6 299.3 L427.4 297.7" stroke="#000" stroke-width="1.60" fill="none" stroke-linecap="round" stroke-linejoin="round"/>
<path d="M418.5 309.8 L430.0 299.0" stroke="#000" stroke-width="2.00" fill="none" stroke-linecap="round" stroke-linejoin="round"/>
<path d="M252.9 285.8 L279.6 280.8 L281.8 288.7 L257.3 297.4Z" fill="#2a2a2a" stroke="#2a2a2a" stroke-width="0.6" stroke-linejoin="round"/>
<path d="M254.4 296.6 L257.2 285.6" stroke="#ddd" stroke-width="0.70" fill="none" stroke-linecap="round" stroke-linejoin="round"/>
<path d="M256.7 295.9 L259.5 285.1" stroke="#ddd" stroke-width="0.70" fill="none" stroke-linecap="round" stroke-linejoin="round"/>
<path d="M259.0 295.1 L261.8 284.6" stroke="#ddd" stroke-width="0.70" fill="none" stroke-linecap="round" stroke-linejoin="round"/>
<path d="M261.3 294.4 L264.1 284.1" stroke="#ddd" stroke-width="0.70" fill="none" stroke-linecap="round" stroke-linejoin="round"/>
<path d="M263.6 293.6 L266.4 283.6" stroke="#ddd" stroke-width="0.70" fill="none" stroke-linecap="round" stroke-linejoin="round"/>
<path d="M265.9 292.9 L268.7 283.1" stroke="#ddd" stroke-width="0.70" fill="none" stroke-linecap="round" stroke-linejoin="round"/>
<path d="M268.2 292.1 L271.0 282.6" stroke="#ddd" stroke-width="0.70" fill="none" stroke-linecap="round" stroke-linejoin="round"/>
<path d="M270.5 291.4 L273.3 282.1" stroke="#ddd" stroke-width="0.70" fill="none" stroke-linecap="round" stroke-linejoin="round"/>
<path d="M272.8 290.6 L275.6 281.6" stroke="#ddd" stroke-width="0.70" fill="none" stroke-linecap="round" stroke-linejoin="round"/>
<path d="M275.1 289.9 L277.9 281.1" stroke="#ddd" stroke-width="0.70" fill="none" stroke-linecap="round" stroke-linejoin="round"/>
<path d="M277.4 289.1 L280.2 280.6" stroke="#ddd" stroke-width="0.70" fill="none" stroke-linecap="round" stroke-linejoin="round"/>
<path d="M291.0 279.4 L296.1 276.5 L299.0 276.8 L306.9 289.5 L306.9 291.6 L301.9 293.8 L299.7 293.1Z" fill="#111" stroke="#111" stroke-width="0.6" stroke-linejoin="round"/>
<path d="M293.3 280.0 L300.6 291.4" stroke="#fff" stroke-width="0.90" fill="none" stroke-linecap="round" stroke-linejoin="round"/>
<path d="M297.0 278.6 L304.4 290.2" stroke="#fff" stroke-width="0.90" fill="none" stroke-linecap="round" stroke-linejoin="round"/>
<path d="M300.6 289.4 L302.6 289.0" stroke="#fff" stroke-width="1.30" fill="none" stroke-linecap="round" stroke-linejoin="round"/>
<path d="M317.2 281.8 L322.1 280.0 L327.5 281.2 L331.1 280.0 L331.7 283.0 L327.5 286.0 L324.5 287.8 L320.3 285.4Z" fill="#000" stroke="#000" stroke-width="0.6" stroke-linejoin="round"/>
<!-- cursor -->
<g shape-rendering="crispEdges"><path d="M71 49h1v1h-1zM71 50h1v1h-1zM72 50h1v1h-1zM71 51h1v1h-1zM72 51h1v1h-1zM73 51h1v1h-1zM71 52h1v1h-1zM72 52h1v1h-1zM73 52h1v1h-1zM74 52h1v1h-1zM71 53h1v1h-1zM72 53h1v1h-1zM73 53h1v1h-1zM74 53h1v1h-1zM75 53h1v1h-1zM71 54h1v1h-1zM72 54h1v1h-1zM73 54h1v1h-1zM74 54h1v1h-1zM75 54h1v1h-1zM76 54h1v1h-1zM71 55h1v1h-1zM72 55h1v1h-1zM73 55h1v1h-1zM74 55h1v1h-1zM75 55h1v1h-1zM76 55h1v1h-1zM77 55h1v1h-1zM71 56h1v1h-1zM72 56h1v1h-1zM73 56h1v1h-1zM74 56h1v1h-1zM75 56h1v1h-1zM76 56h1v1h-1zM77 56h1v1h-1zM78 56h1v1h-1zM71 57h1v1h-1zM72 57h1v1h-1zM73 57h1v1h-1zM74 57h1v1h-1zM75 57h1v1h-1zM76 57h1v1h-1zM77 57h1v1h-1zM78 57h1v1h-1zM79 57h1v1h-1zM71 58h1v1h-1zM72 58h1v1h-1zM73 58h1v1h-1zM74 58h1v1h-1zM75 58h1v1h-1zM76 58h1v1h-1zM71 59h1v1h-1zM72 59h1v1h-1zM73 59h1v1h-1zM75 59h1v1h-1zM76 59h1v1h-1zM71 60h1v1h-1zM72 60h1v1h-1zM76 60h1v1h-1zM77 60h1v1h-1zM71 61h1v1h-1zM76 61h1v1h-1zM77 61h1v1h-1zM77 62h1v1h-1zM78 62h1v1h-1zM77 63h1v1h-1zM78 63h1v1h-1zM78 64h1v1h-1zM79 64h1v1h-1zM78 65h1v1h-1zM79 65h1v1h-1z" fill="#fff"/><path d="M70 47h1v1h-1zM70 48h1v1h-1zM71 48h1v1h-1zM70 49h1v1h-1zM72 49h1v1h-1zM70 50h1v1h-1zM73 50h1v1h-1zM70 51h1v1h-1zM74 51h1v1h-1zM70 52h1v1h-1zM75 52h1v1h-1zM70 53h1v1h-1zM76 53h1v1h-1zM70 54h1v1h-1zM77 54h1v1h-1zM70 55h1v1h-1zM78 55h1v1h-1zM70 56h1v1h-1zM79 56h1v1h-1zM70 57h1v1h-1zM80 57h1v1h-1zM70 58h1v1h-1zM77 58h1v1h-1zM78 58h1v1h-1zM79 58h1v1h-1zM80 58h1v1h-1zM81 58h1v1h-1zM70 59h1v1h-1zM74 59h1v1h-1zM77 59h1v1h-1zM70 60h1v1h-1zM73 60h1v1h-1zM75 60h1v1h-1zM78 60h1v1h-1zM70 61h1v1h-1zM72 61h1v1h-1zM75 61h1v1h-1zM78 61h1v1h-1zM70 62h1v1h-1zM71 62h1v1h-1zM76 62h1v1h-1zM79 62h1v1h-1zM70 63h1v1h-1zM76 63h1v1h-1zM79 63h1v1h-1zM77 64h1v1h-1zM80 64h1v1h-1zM77 65h1v1h-1zM80 65h1v1h-1zM78 66h1v1h-1zM79 66h1v1h-1z" fill="#000"/></g>
</svg>
</body></html>
